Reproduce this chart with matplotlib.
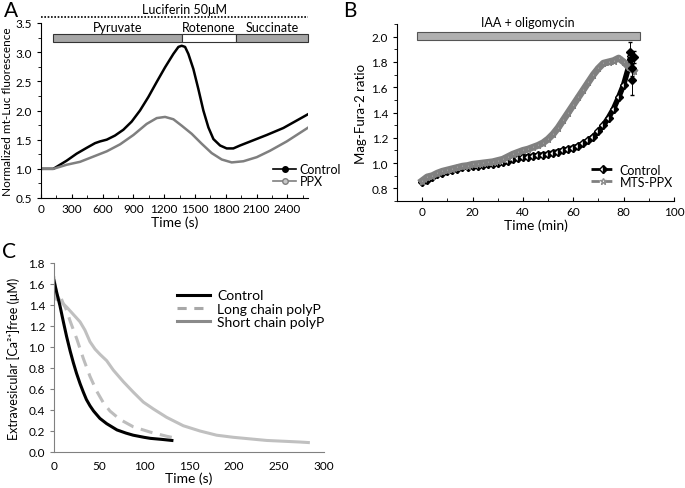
import matplotlib
matplotlib.use("Agg")
import matplotlib.pyplot as plt
from matplotlib.lines import Line2D
from matplotlib.patches import Rectangle
from matplotlib.ticker import MultipleLocator, FormatStrFormatter

plt.rcParams['font.family'] = ['Lato', 'DejaVu Sans']
plt.rcParams['font.size'] = 8.5

# ---- data: panel A (mt-Luc) ----
a_t = [0, 120, 185, 250, 347, 445, 526, 575, 640, 720, 802, 883, 964, 1045, 1127, 1208, 1289,
       1338, 1370, 1403, 1435, 1484, 1532, 1581, 1630, 1679, 1744, 1808, 1873, 1938, 2068, 2198,
       2360, 2604]
a_ctrl = [1.0, 1.0, 1.07, 1.14, 1.26, 1.36, 1.44, 1.47, 1.50, 1.57, 1.67, 1.81, 2.0, 2.23, 2.49,
          2.74, 2.97, 3.09, 3.11, 3.09, 2.97, 2.71, 2.37, 2.0, 1.71, 1.51, 1.40, 1.35, 1.35, 1.40,
          1.49, 1.58, 1.70, 1.94]
a_ppx_t = [0, 120, 250, 380, 510, 640, 770, 900, 1029, 1127, 1208, 1289, 1370, 1468, 1565, 1662,
           1760, 1857, 1971, 2101, 2230, 2393, 2604]
a_ppx = [1.0, 1.0, 1.07, 1.12, 1.21, 1.30, 1.42, 1.58, 1.77, 1.87, 1.89, 1.85, 1.74, 1.60, 1.43,
         1.27, 1.16, 1.11, 1.13, 1.20, 1.31, 1.47, 1.71]
a_bars = [("Pyruvate", 120, 1370, "#a6a6a6"), ("Rotenone", 1370, 1895, "white"),
          ("Succinate", 1895, 2600, "#a6a6a6")]

# ---- data: panel B (Mag-Fura-2) ----
b_t = list(range(0, 84, 2)) + [83]
b_ctrl = [0.85, 0.87, 0.89, 0.91, 0.925, 0.935, 0.945, 0.955, 0.965, 0.97, 0.975, 0.98, 0.985, 0.99,
          0.995, 1.0, 1.005, 1.015, 1.03, 1.04, 1.045, 1.05, 1.055, 1.06, 1.065, 1.07, 1.08, 1.09,
          1.10, 1.11, 1.12, 1.135, 1.155, 1.18, 1.21, 1.25, 1.30, 1.36, 1.43, 1.52, 1.62, 1.76, 1.85]
b_ppx_t = list(range(0, 86, 2))
b_ppx = [0.86, 0.89, 0.90, 0.92, 0.935, 0.945, 0.955, 0.965, 0.975, 0.98, 0.99, 0.995, 1.0, 1.005,
         1.01, 1.02, 1.03, 1.05, 1.07, 1.085, 1.10, 1.11, 1.125, 1.14, 1.16, 1.19, 1.23, 1.28,
         1.34, 1.40, 1.46, 1.52, 1.58, 1.64, 1.70, 1.75, 1.79, 1.80, 1.81, 1.83, 1.80, 1.76, 1.73]
b_err_t = [82.5, 83, 83.5, 84, 83.5]
b_err_y = [1.88, 1.82, 1.66, 1.84, 1.75]
b_err = [0.08, 0.06, 0.12, 0.05, 0.06]

# ---- data: panel C (extravesicular Ca2+) ----
c_ctrl_t = [0, 3, 6.7, 10.4, 14, 18, 21.5, 25, 29, 32.6, 36, 40, 44, 51, 58.5, 70, 80, 88, 100,
            107, 120, 131]
c_ctrl = [1.63, 1.52, 1.39, 1.24, 1.10, 0.96, 0.85, 0.75, 0.65, 0.57, 0.50, 0.44, 0.39, 0.32,
          0.27, 0.21, 0.18, 0.16, 0.14, 0.13, 0.12, 0.11]
c_long_t = [0, 3, 6.7, 10, 14, 17.8, 25.2, 32.6, 40, 47.4, 54.8, 62.2, 73.3, 88.1, 106.7, 125.2,
            136.3]
c_long = [1.55, 1.45, 1.49, 1.42, 1.35, 1.25, 1.08, 0.89, 0.72, 0.58, 0.47, 0.39, 0.31, 0.24,
          0.19, 0.15, 0.13]
c_short_t = [0, 3, 6.7, 14.1, 21.5, 28.9, 34.4, 40, 45.6, 51.1, 58.5, 65.9, 77, 88.1, 99.3, 110.4,
             125.2, 143.7, 162.2, 180.7, 199.3, 236.3, 273.3, 282.6]
c_short = [1.66, 1.50, 1.44, 1.38, 1.31, 1.24, 1.16, 1.05, 0.98, 0.93, 0.87, 0.78, 0.67, 0.57,
           0.475, 0.41, 0.33, 0.25, 0.20, 0.16, 0.14, 0.11, 0.095, 0.09]

fig = plt.figure(figsize=(6.85, 4.89), dpi=100)

# ================= panel A =================
axA = fig.add_axes([41/685, 1-199/489, 267/685, 175/489])
axA.plot(a_t, a_ctrl, color="black", lw=1.8)
axA.plot(a_ppx_t, a_ppx, color="#7f7f7f", lw=1.8)
axA.set_xlim(0, 2600)
axA.set_ylim(0.5, 3.5)
axA.xaxis.set_major_locator(MultipleLocator(300))
axA.xaxis.set_minor_locator(MultipleLocator(150))
axA.yaxis.set_major_locator(MultipleLocator(0.5))
axA.yaxis.set_minor_locator(MultipleLocator(0.25))
axA.yaxis.set_major_formatter(FormatStrFormatter("%.1f"))
axA.tick_params(axis="x", which="both", direction="in")
axA.tick_params(axis="y", which="both", direction="out")
axA.tick_params(which="major", length=3)
axA.tick_params(which="minor", length=2)
for s in ["top", "right"]:
    axA.spines[s].set_visible(False)
axA.set_xlabel("Time (s)", fontsize=10, labelpad=1)
axA.set_ylabel("Normalized mt-Luc fluorescence", fontsize=8.5, labelpad=2)
for name, x0, x1, col in a_bars:
    axA.add_patch(Rectangle((x0, 3.17), x1 - x0, 0.14, facecolor=col, edgecolor="#333333",
                            lw=0.8, clip_on=False))
    axA.text((x0 + x1) / 2, 3.33, name, ha="center", va="bottom", fontsize=9)
axA.plot([0, 2600], [3.6, 3.6], color="black", ls=(0, (1, 1)), lw=1.2, clip_on=False)
axA.text(1400, 3.63, "Luciferin 50\u03bcM", ha="center", va="bottom", fontsize=9)
hA = [Line2D([], [], color="black", lw=1.2, marker="o", ms=4, mfc="black"),
      Line2D([], [], color="#7f7f7f", lw=1.2, marker="o", ms=4, mfc="#c8c8c8", mec="#7f7f7f")]
axA.legend(hA, ["Control", "PPX"], loc="upper left", bbox_to_anchor=(0.87, 0.20), frameon=False,
           fontsize=9, handlelength=1.8, handletextpad=0.3, labelspacing=0.0, borderpad=0,
           borderaxespad=0)
fig.text(4/685, 1-1/489, "A", fontsize=15, va="top", ha="left")

# ================= panel B =================
axB = fig.add_axes([397/685, 1-202/489, 277/685, 177/489])
axB.plot(b_t, b_ctrl, color="black", lw=4, zorder=2)
axB.plot(b_t, b_ctrl, ls="none", marker="D", ms=4, mec="black", mfc="black",
         mfcalt="white", fillstyle="right", zorder=3)
axB.plot(b_ppx_t, b_ppx, color="#808080", lw=5, zorder=4)
axB.plot(b_ppx_t, b_ppx, ls="none", marker="*", ms=5, mec="#808080", mfc="#a0a0a0", zorder=5)
axB.errorbar(b_err_t, b_err_y, yerr=b_err, fmt="D", ms=4, color="black", mfc="black",
             elinewidth=0.7, capsize=1.5, zorder=6)
axB.set_xlim(-10, 100)
axB.set_ylim(0.7, 2.1)
axB.xaxis.set_major_locator(MultipleLocator(20))
axB.xaxis.set_minor_locator(MultipleLocator(10))
axB.yaxis.set_minor_locator(MultipleLocator(0.1))
axB.set_yticks([0.8, 1.0, 1.2, 1.4, 1.6, 1.8, 2.0])
axB.yaxis.set_major_formatter(FormatStrFormatter("%.1f"))
axB.tick_params(axis="x", which="both", direction="in")
axB.tick_params(axis="y", which="both", direction="out")
axB.tick_params(which="major", length=3)
axB.tick_params(which="minor", length=2)
for s in ["top", "right"]:
    axB.spines[s].set_visible(False)
axB.set_xlabel("Time (min)", fontsize=10, labelpad=1)
axB.set_ylabel("Mag-Fura-2 ratio", fontsize=9.5, labelpad=3)
axB.add_patch(Rectangle((-2, 1.97), 88.3, 0.07, facecolor="#b0b0b0", edgecolor="#555555",
                        lw=0.8, clip_on=False, zorder=7))
axB.text(42, 2.065, "IAA + oligomycin", ha="center", va="bottom", fontsize=9)
hB = [Line2D([], [], color="black", lw=2, ls=(0, (3, 1.5)), marker="D", ms=4, mfc="black",
             mfcalt="white", fillstyle="right", mec="black"),
      Line2D([], [], color="#808080", lw=2, ls=(0, (3, 1.5)), marker="*", ms=5, mfc="white",
             mec="#909090")]
axB.legend(hB, ["Control", "MTS-PPX"], loc="upper left", bbox_to_anchor=(0.70, 0.21),
           frameon=False, fontsize=9, handlelength=2.0, handletextpad=0.3, labelspacing=0.0,
           borderpad=0, borderaxespad=0)
fig.text(343/685, 1-1/489, "B", fontsize=15, va="top", ha="left")

# ================= panel C =================
axC = fig.add_axes([54/685, 36/489, 270/685, 189/489])
axC.plot(c_short_t, c_short, color="#c0c0c0", lw=2.2)
axC.plot(c_long_t, c_long, color="#bdbdbd", lw=2.2, ls=(0, (4, 2.5)))
axC.plot(c_ctrl_t, c_ctrl, color="black", lw=2.2)
axC.set_xlim(0, 300)
axC.set_ylim(0, 1.8)
axC.xaxis.set_major_locator(MultipleLocator(50))
axC.yaxis.set_major_locator(MultipleLocator(0.2))
axC.yaxis.set_major_formatter(FormatStrFormatter("%.1f"))
axC.tick_params(axis="x", length=0, pad=6, labelsize=8.5)
axC.tick_params(axis="y", length=3, direction="out", labelsize=8.5, color="#808080")
for s in ["top", "right"]:
    axC.spines[s].set_visible(False)
for s in ["left", "bottom"]:
    axC.spines[s].set_color("#808080")
axC.set_xlabel("Time (s)", fontsize=10, labelpad=0)
axC.set_ylabel("Extravesicular [Ca\u00b2\u207a]free (\u03bcM)", fontsize=9, labelpad=6)
hC = [Line2D([], [], color="black", lw=2.2),
      Line2D([], [], color="#a8a8a8", lw=2.2, ls=(0, (3, 2.5))),
      Line2D([], [], color="#8a8a8a", lw=2.2)]
axC.legend(hC, ["Control", "Long chain polyP", "Short chain polyP"], loc="upper left",
           bbox_to_anchor=(0.455, 0.86), frameon=False, fontsize=10, handlelength=2.4,
           handletextpad=0.5, labelspacing=0.1, borderpad=0, borderaxespad=0)
fig.text(2/685, 1-242/489, "C", fontsize=15, va="top", ha="left")

fig.savefig("out.png", dpi=100)
